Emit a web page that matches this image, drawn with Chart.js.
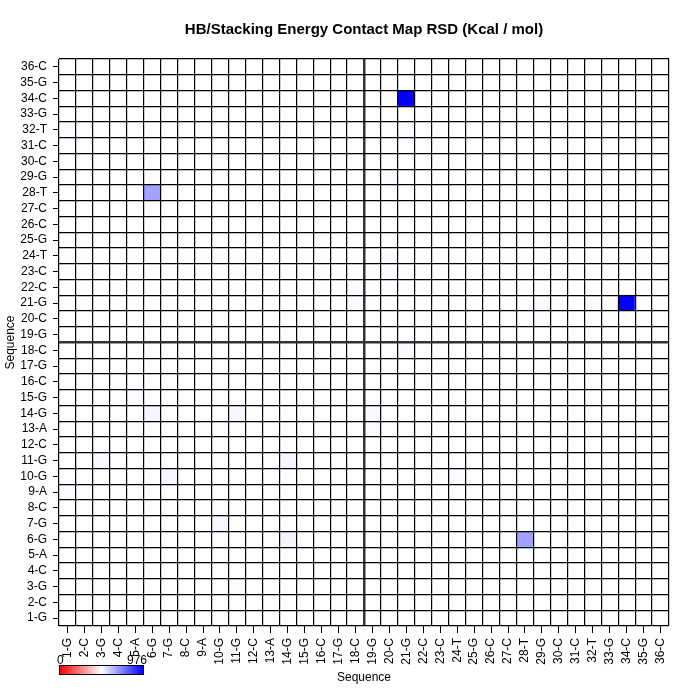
<!DOCTYPE html>
<html>
<head>
<meta charset="utf-8">
<script src="https://cdn.jsdelivr.net/npm/chart.js@4.4.1/dist/chart.umd.min.js"></script>
<style>
  body { margin: 0; background: #fff; }
  #caixa { position: relative; width: 700px; height: 700px; font-family: "Liberation Sans", Arial, sans-serif; }
  #barra { position: absolute; left: 59px; top: 665px; width: 83px; height: 8px;
           border: 1px solid #000; background: linear-gradient(to right, #ff0000, #ffffff 50%, #0000ff); }
  .rotulo-barra { position: absolute; top: 654px; font-size: 12px; line-height: 12px; color: #000; }
</style>
</head>
<body>
<div id="caixa">
  <canvas id="mapa"></canvas>
  <div id="barra"></div>
  <div class="rotulo-barra" style="left:57px;">0</div>
  <div class="rotulo-barra" style="left:127px;">976</div>
</div>
<script>
// Mapa de contato RSD (HB/Stacking) — heatmap 36x36 feito com barras empilhadas

// ── Sequência (rótulos dos dois eixos) ──
const SEQUENCIA = [
  "1-G", "2-C", "3-G", "4-C", "5-A", "6-G", "7-G", "8-C", "9-A", "10-G",
  "11-G", "12-C", "13-A", "14-G", "15-G", "16-C", "17-G", "18-C", "19-G", "20-C",
  "21-G", "22-C", "23-C", "24-T", "25-G", "26-C", "27-C", "28-T", "29-G", "30-C",
  "31-C", "32-T", "33-G", "34-C", "35-G", "36-C"
];

// ── Células não nulas: coluna, linha, valor RSD ──
const CELULA_X = [
  "21-G", "34-C", "6-G",  "28-T",
  "14-G", "6-G",  "14-G", "11-G", "7-G",  "10-G",
  "3-G",  "11-G", "5-A",  "1-G",  "1-G",  "21-G", "20-C", "20-C", "20-C",
  "29-G", "29-G", "32-T", "19-G", "19-G", "18-C", "18-C", "21-G", "17-G",
  "10-G", "24-T", "24-T", "10-G"
];
const CELULA_Y = [
  "34-C", "21-G", "28-T", "6-G",
  "6-G",  "14-G", "11-G", "14-G", "10-G", "7-G",
  "11-G", "3-G",  "15-G", "9-A",  "32-T", "32-T", "29-G", "24-T", "23-C",
  "20-C", "21-G", "21-G", "14-G", "13-A", "21-G", "22-C", "18-C", "8-C",
  "24-T", "10-G", "14-G", "30-C"
];
const CELULA_V = [
  976, 976, 360, 360,
  45, 40, 40, 35, 35, 35,
  22, 18, 18, 18, 15, 15, 15, 18, 18,
  18, 18, 15, 22, 18, 18, 15, 22, 12,
  18, 15, 12, 12
];

const VALOR_MAX = 976;

// ── Monta a matriz 36x36 (zeros + células lidas) ──
const n = SEQUENCIA.length;
const matriz = SEQUENCIA.map(() => SEQUENCIA.map(() => 0));
CELULA_X.forEach((cx, k) => {
  const i = SEQUENCIA.indexOf(cx);
  const j = SEQUENCIA.indexOf(CELULA_Y[k]);
  matriz[j][i] = CELULA_V[k];
});

// branco -> azul conforme o valor
function corCelula(v) {
  const t = Math.min(1, v / VALOR_MAX);
  const c = Math.round(255 * (1 - t));
  return `rgb(${c},${c},255)`;
}

// Uma linha do mapa = um dataset (altura 1, empilhado)
const datasets = SEQUENCIA.map((nome, j) => ({
  label: nome,
  data: SEQUENCIA.map(() => 1),
  backgroundColor: matriz[j].map(corCelula),
  borderWidth: 0,
  barPercentage: 1,
  categoryPercentage: 1,
}));

const FONTE = { family: "'Liberation Sans', Arial, sans-serif", size: 12 };

new Chart(document.getElementById("mapa"), {
  type: "bar",
  data: { labels: SEQUENCIA, datasets: datasets },
  options: {
    responsive: true,
    maintainAspectRatio: false,
    animation: false,
    layout: { padding: 0 },
    plugins: {
      legend: { display: false },
      tooltip: { enabled: false },
      title: {
        display: true,
        fullSize: false,   // centraliza sobre a área do gráfico
        text: "HB/Stacking Energy Contact Map RSD (Kcal / mol)",
        color: "#000",
        font: { family: FONTE.family, size: 15, weight: "bold" },
        padding: { top: 21, bottom: 20 },
      }
    },
    scales: {
      // eixo x com os rótulos e marcas no centro
      x: {
        type: "category",
        stacked: true,
        offset: true,
        position: "bottom",
        border: { display: false },
        grid: { drawOnChartArea: false, drawTicks: true, tickLength: 7, tickColor: "#000", offset: false },
        ticks: { color: "#000", font: FONTE, minRotation: 90, maxRotation: 90, autoSkip: false, padding: 5 },
        title: { display: true, text: "Sequence", color: "#000", font: FONTE, padding: { top: 0, bottom: 15 } },
        afterFit: s => { s.height = 74; }
      },
      // eixo x só para as linhas da grade (entre as categorias)
      xg: {
        type: "category",
        offset: true,
        position: "top",
        border: { display: false },
        grid: {
          z: 1,
          offset: true,
          drawTicks: false,
          color: ctx => ctx.index === 18 ? "#333" : "#000",
          lineWidth: ctx => ctx.index === 18 ? 2.5 : 1.2,
        },
        ticks: { display: false, autoSkip: false },
        afterFit: s => { s.height = 0; }
      },
      // eixo y dos dados + grade
      y: {
        type: "linear",
        stacked: true,
        min: 0,
        max: n,
        position: "right",
        border: { display: false },
        grid: {
          z: 1,
          drawTicks: false,
          color: ctx => ctx.tick && ctx.tick.value === 18 ? "#333" : "#000",
          lineWidth: ctx => ctx.tick && ctx.tick.value === 18 ? 2.5 : 1.2,
        },
        ticks: { display: false, stepSize: 1, autoSkip: false },
        afterFit: s => { s.width = 31; }
      },
      // eixo y só para os rótulos (centro de cada linha)
      yl: {
        type: "linear",
        min: 0,
        max: n,
        position: "left",
        border: { display: false },
        afterBuildTicks: s => { s.ticks = SEQUENCIA.map((_, j) => ({ value: j + 0.5 })); },
        grid: { drawOnChartArea: false, drawTicks: true, tickLength: 6, tickColor: "#000" },
        ticks: { color: "#000", font: FONTE, padding: 6, autoSkip: false, callback: (v, idx) => SEQUENCIA[idx] },
        title: { display: true, text: "Sequence", color: "#000", font: FONTE, padding: { top: 3, bottom: 0 } },
        afterFit: s => { s.width = 59; }
      }
    }
  }
});
</script>
</body>
</html>
